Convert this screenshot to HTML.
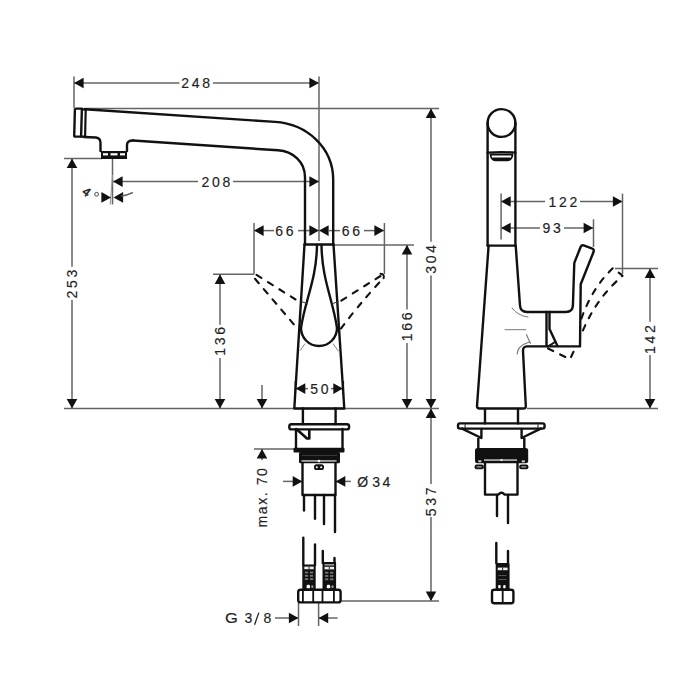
<!DOCTYPE html>
<html><head><meta charset="utf-8"><style>
html,body{margin:0;padding:0;background:#fff;}
svg{display:block;font-family:"Liberation Sans",sans-serif;}
</style></head><body>
<svg width="700" height="700" viewBox="0 0 700 700">
<rect width="700" height="700" fill="#fff"/>
<line x1="74" y1="76.5" x2="74" y2="108" stroke="#646464" stroke-width="1.5" />
<line x1="74" y1="83" x2="179.4" y2="83" stroke="#646464" stroke-width="1.5" />
<line x1="212.9" y1="83" x2="319" y2="83" stroke="#646464" stroke-width="1.5" />
<polygon points="74.00,83.00 83.60,77.70 83.60,88.30" fill="#111"/>
<polygon points="319.00,83.00 309.40,77.70 309.40,88.30" fill="#111"/>
<text x="197.04999999999998" y="83" font-size="14" letter-spacing="2.7" text-anchor="middle" dominant-baseline="central" fill="#222" stroke="#222" stroke-width="0.15">248</text>
<line x1="319" y1="76.5" x2="319" y2="241" stroke="#646464" stroke-width="1.5" />
<line x1="84" y1="108.4" x2="439" y2="108.4" stroke="#646464" stroke-width="1.5" />
<line x1="113" y1="181.6" x2="198" y2="181.6" stroke="#646464" stroke-width="1.5" />
<line x1="233" y1="181.6" x2="319" y2="181.6" stroke="#646464" stroke-width="1.5" />
<polygon points="113.00,181.60 122.60,176.30 122.60,186.90" fill="#111"/>
<polygon points="319.00,181.60 309.40,176.30 309.40,186.90" fill="#111"/>
<text x="217.15" y="181.6" font-size="14" letter-spacing="2.7" text-anchor="middle" dominant-baseline="central" fill="#222" stroke="#222" stroke-width="0.15">208</text>
<line x1="64" y1="158.5" x2="102" y2="158.5" stroke="#646464" stroke-width="1.5" />
<line x1="72" y1="158.5" x2="72" y2="266.7" stroke="#646464" stroke-width="1.5" />
<line x1="72" y1="300.1" x2="72" y2="408.5" stroke="#646464" stroke-width="1.5" />
<polygon points="72.00,158.50 66.70,168.10 77.30,168.10" fill="#111"/>
<polygon points="72.00,408.50 66.70,398.90 77.30,398.90" fill="#111"/>
<text x="73.35" y="284" font-size="14" letter-spacing="2.7" text-anchor="middle" dominant-baseline="central" fill="#222" stroke="#222" stroke-width="0.15" transform="rotate(-90 72 284)">253</text>
<line x1="64" y1="408.5" x2="439" y2="408.5" stroke="#646464" stroke-width="1.5" />
<line x1="213" y1="274.3" x2="254" y2="274.3" stroke="#646464" stroke-width="1.5" />
<line x1="254" y1="223" x2="254" y2="274.3" stroke="#646464" stroke-width="1.5" />
<line x1="220" y1="274.3" x2="220" y2="324.8" stroke="#646464" stroke-width="1.5" />
<line x1="220" y1="358" x2="220" y2="408.5" stroke="#646464" stroke-width="1.5" />
<polygon points="220.00,274.30 214.70,283.90 225.30,283.90" fill="#111"/>
<polygon points="220.00,408.50 214.70,398.90 225.30,398.90" fill="#111"/>
<text x="221.35" y="341.4" font-size="14" letter-spacing="2.7" text-anchor="middle" dominant-baseline="central" fill="#222" stroke="#222" stroke-width="0.15" transform="rotate(-90 220 341.4)">136</text>
<line x1="262" y1="385" x2="262" y2="408.5" stroke="#646464" stroke-width="1.5" />
<polygon points="262.00,408.50 256.70,398.90 267.30,398.90" fill="#111"/>
<line x1="254" y1="230.6" x2="274" y2="230.6" stroke="#646464" stroke-width="1.5" />
<line x1="298" y1="230.6" x2="310" y2="230.6" stroke="#646464" stroke-width="1.5" />
<polygon points="254.00,230.60 263.60,225.30 263.60,235.90" fill="#111"/>
<polygon points="319.00,230.60 309.40,225.30 309.40,235.90" fill="#111"/>
<polygon points="319.00,230.60 328.60,225.30 328.60,235.90" fill="#111"/>
<line x1="328" y1="230.6" x2="340" y2="230.6" stroke="#646464" stroke-width="1.5" />
<line x1="364" y1="230.6" x2="384" y2="230.6" stroke="#646464" stroke-width="1.5" />
<polygon points="384.00,230.60 374.40,225.30 374.40,235.90" fill="#111"/>
<text x="285.85" y="230.6" font-size="14" letter-spacing="2.7" text-anchor="middle" dominant-baseline="central" fill="#222" stroke="#222" stroke-width="0.15">66</text>
<text x="352.35" y="230.6" font-size="14" letter-spacing="2.7" text-anchor="middle" dominant-baseline="central" fill="#222" stroke="#222" stroke-width="0.15">66</text>
<line x1="384.4" y1="223" x2="384.4" y2="274" stroke="#646464" stroke-width="1.5" />
<line x1="333" y1="245" x2="414" y2="245" stroke="#646464" stroke-width="1.5" />
<line x1="407" y1="245" x2="407" y2="309.6" stroke="#646464" stroke-width="1.5" />
<line x1="407" y1="342.9" x2="407" y2="408.5" stroke="#646464" stroke-width="1.5" />
<polygon points="407.00,245.00 401.70,254.60 412.30,254.60" fill="#111"/>
<polygon points="407.00,408.50 401.70,398.90 412.30,398.90" fill="#111"/>
<text x="408.35" y="326.8" font-size="14" letter-spacing="2.7" text-anchor="middle" dominant-baseline="central" fill="#222" stroke="#222" stroke-width="0.15" transform="rotate(-90 407 326.8)">166</text>
<line x1="431" y1="108.4" x2="431" y2="241.7" stroke="#646464" stroke-width="1.5" />
<line x1="431" y1="275.4" x2="431" y2="408.5" stroke="#646464" stroke-width="1.5" />
<polygon points="431.00,108.40 425.70,118.00 436.30,118.00" fill="#111"/>
<polygon points="431.00,408.50 425.70,398.90 436.30,398.90" fill="#111"/>
<text x="432.35" y="259.4" font-size="14" letter-spacing="2.7" text-anchor="middle" dominant-baseline="central" fill="#222" stroke="#222" stroke-width="0.15" transform="rotate(-90 431 259.4)">304</text>
<line x1="431" y1="408.5" x2="431" y2="483.9" stroke="#646464" stroke-width="1.5" />
<line x1="431" y1="517.1" x2="431" y2="601" stroke="#646464" stroke-width="1.5" />
<polygon points="431.00,408.50 425.70,418.10 436.30,418.10" fill="#111"/>
<polygon points="431.00,601.00 425.70,591.40 436.30,591.40" fill="#111"/>
<text x="432.35" y="501.9" font-size="14" letter-spacing="2.7" text-anchor="middle" dominant-baseline="central" fill="#222" stroke="#222" stroke-width="0.15" transform="rotate(-90 431 501.9)">537</text>
<line x1="340" y1="601" x2="439" y2="601" stroke="#646464" stroke-width="1.5" />
<line x1="295.7" y1="388.6" x2="308" y2="388.6" stroke="#646464" stroke-width="1.5" />
<line x1="331" y1="388.6" x2="342.9" y2="388.6" stroke="#646464" stroke-width="1.5" />
<polygon points="295.70,388.60 305.30,383.30 305.30,393.90" fill="#111"/>
<polygon points="342.90,388.60 333.30,383.30 333.30,393.90" fill="#111"/>
<text x="320.65000000000003" y="388.6" font-size="14" letter-spacing="2.7" text-anchor="middle" dominant-baseline="central" fill="#222" stroke="#222" stroke-width="0.15">50</text>
<line x1="254" y1="449" x2="295" y2="449" stroke="#646464" stroke-width="1.5" />
<line x1="262" y1="449" x2="262" y2="460" stroke="#646464" stroke-width="1.5" />
<polygon points="262.00,449.00 256.70,458.60 267.30,458.60" fill="#111"/>
<text x="263.3" y="497.8" font-size="14" letter-spacing="1.6" text-anchor="middle" dominant-baseline="central" fill="#222" stroke="#222" stroke-width="0.15" transform="rotate(-90 262.5 497.8)">max. 70</text>
<line x1="283" y1="481.4" x2="302.3" y2="481.4" stroke="#646464" stroke-width="1.5" />
<polygon points="302.30,481.40 292.70,476.10 292.70,486.70" fill="#111"/>
<line x1="335.7" y1="481.4" x2="350.9" y2="481.4" stroke="#646464" stroke-width="1.5" />
<polygon points="335.70,481.40 345.30,476.10 345.30,486.70" fill="#111"/>
<text x="357.3" y="482.3" font-size="14" fill="#222" stroke="#222" stroke-width="0.15" dominant-baseline="central">Ø<tspan x="372.3" letter-spacing="2.5">34</tspan></text>
<text y="617.8" font-size="14" fill="#222" stroke="#222" stroke-width="0.15" dominant-baseline="central"><tspan x="244.4">3</tspan><tspan x="263.6">8</tspan></text>
<line x1="258.8" y1="612.6" x2="254.6" y2="624.8" stroke="#222" stroke-width="1.3" />
<text x="0" y="617.8" font-size="14" fill="#222" stroke="#222" stroke-width="0.15" dominant-baseline="central" transform="translate(225 0) scale(1.18 1)">G</text>
<line x1="275" y1="618" x2="298.5" y2="618" stroke="#646464" stroke-width="1.5" />
<polygon points="298.50,618.00 288.90,612.70 288.90,623.30" fill="#111"/>
<line x1="298.5" y1="603" x2="298.5" y2="626" stroke="#646464" stroke-width="1.5" />
<line x1="318.6" y1="603" x2="318.6" y2="626" stroke="#646464" stroke-width="1.5" />
<line x1="318.6" y1="618" x2="337.6" y2="618" stroke="#646464" stroke-width="1.5" />
<polygon points="318.60,618.00 328.20,612.70 328.20,623.30" fill="#111"/>
<line x1="112.5" y1="159" x2="112.5" y2="204.5" stroke="#646464" stroke-width="1.5" />
<line x1="112.5" y1="175" x2="110.2" y2="204.5" stroke="#999" stroke-width="1.1" />
<polygon points="111.00,197.40 101.40,192.10 101.40,202.70" fill="#111"/>
<polygon points="113.50,197.40 123.10,192.10 123.10,202.70" fill="#111"/>
<path d="M122 196 Q127 195 132.4 192.7" stroke="#646464" stroke-width="1.5" fill="none" stroke-linejoin="round" stroke-linecap="round" />
<text x="86.3" y="192" font-size="12.5" text-anchor="middle" dominant-baseline="central" fill="#222" stroke="#222" stroke-width="0.5" transform="rotate(36 86.3 192)">4</text>
<circle cx="96.6" cy="194.3" r="1.9" fill="none" stroke="#333" stroke-width="0.9"/>
<path d="M85 109.3 L275 121.9 C307 123.9 333.2 147.7 333.2 179.7 L333.2 244.5" stroke="#111" stroke-width="2.4" fill="none" stroke-linejoin="round" stroke-linecap="round" />
<path d="M133 140.5 L278 150.3 C293 151.3 305 162 305 177 L305 244.5" stroke="#111" stroke-width="2.4" fill="none" stroke-linejoin="round" stroke-linecap="round" />
<path d="M76 108.6 L81.9 108.6 L81.1 136.6 L74.6 136.6 Q74.2 136.6 74.2 136 L74.9 109.5 Q75 108.6 76 108.6 Z" stroke="#111" stroke-width="2.4" fill="none" stroke-linejoin="round" stroke-linecap="round" />
<path d="M81.9 109.3 L85.7 109.3 L85.1 136.6 L81.1 136.6" stroke="#111" stroke-width="2.2" fill="none" stroke-linejoin="round" stroke-linecap="round" />
<path d="M84 137 L96 137.5 Q100.5 138 100.5 143 L100.5 151" stroke="#111" stroke-width="2.4" fill="none" stroke-linejoin="round" stroke-linecap="round" />
<path d="M127 151 L127 145 Q127 140.5 133 140.5" stroke="#111" stroke-width="2.4" fill="none" stroke-linejoin="round" stroke-linecap="round" />
<rect x="101" y="151" width="26" height="8" fill="#111"/>
<rect x="103" y="153.2" width="5" height="2.2" fill="#fff"/><rect x="110.5" y="153.2" width="7" height="2.2" fill="#fff"/><rect x="120" y="153.2" width="5" height="2.2" fill="#fff"/>
<path d="M304.5 244.5 L333.5 244.5" stroke="#111" stroke-width="2.4" fill="none" stroke-linejoin="round" stroke-linecap="round" />
<path d="M304.5 244.5 L294.3 408.5 L344.3 408.5 L333.5 244.5" stroke="#111" stroke-width="2.4" fill="none" stroke-linejoin="round" stroke-linecap="round" />
<path d="M317 245 C316.5 280 305 300 301 328 A18 18 0 0 0 337 328 C333 300 322 280 321.5 245" stroke="#111" stroke-width="2.4" fill="none" stroke-linejoin="round" stroke-linecap="round" />
<line x1="305" y1="343.6" x2="300" y2="350.7" stroke="#777" stroke-width="0.9" />
<line x1="332.9" y1="343.6" x2="338.6" y2="351.4" stroke="#777" stroke-width="0.9" />
<line x1="301.4" y1="301.5" x2="307.9" y2="304" stroke="#333" stroke-width="1" />
<line x1="331.4" y1="304" x2="338.6" y2="301.5" stroke="#333" stroke-width="1" />
<path d="M256.5 274.8 L295.5 299.5" stroke="#111" stroke-width="2.1" fill="none" stroke-linejoin="round" stroke-linecap="round" stroke-dasharray="5.8 7.7"/>
<path d="M255 278.8 L296.5 327.5" stroke="#111" stroke-width="2.1" fill="none" stroke-linejoin="round" stroke-linecap="round" stroke-dasharray="5.8 7.7"/>
<path d="M380.5 276 L337.5 303" stroke="#111" stroke-width="2.1" fill="none" stroke-linejoin="round" stroke-linecap="round" stroke-dasharray="5.8 7.7"/>
<path d="M379.3 282.5 Q356 308 339.5 330.5" stroke="#111" stroke-width="2.1" fill="none" stroke-linejoin="round" stroke-linecap="round" stroke-dasharray="5.8 7.7"/>
<path d="M380.5 273.8 Q384.8 274 383.6 278.3" stroke="#111" stroke-width="2" fill="none" stroke-linejoin="round" stroke-linecap="round" />
<line x1="295.3" y1="381" x2="295.3" y2="396" stroke="#111" stroke-width="1.2" />
<line x1="343.5" y1="381" x2="343.5" y2="396" stroke="#111" stroke-width="1.2" />
<path d="M302.9 408.5 L302.9 424 M335.6 408.5 L335.6 424" stroke="#111" stroke-width="2.4" fill="none" stroke-linejoin="round" stroke-linecap="round" />
<rect x="289.3" y="424.2" width="59.8" height="5.2" rx="2.2" fill="none" stroke="#111" stroke-width="2.4"/>
<path d="M296 429 L296 448.5 M342.5 429 L342.5 448.5" stroke="#111" stroke-width="2.4" fill="none" stroke-linejoin="round" stroke-linecap="round" />
<path d="M297.5 430 L307 438.5 L309.3 438.5 L309.3 430.5" stroke="#111" stroke-width="2.6" fill="none" stroke-linejoin="round" stroke-linecap="round" />
<rect x="293.5" y="447.8" width="51" height="4.6" rx="1" fill="#111"/>
<rect x="299" y="452" width="41" height="11.2" rx="1.5" fill="#111"/>
<rect x="301.5" y="460.3" width="35" height="1.3" fill="#ddd"/><circle cx="319" cy="461" r="1.3" fill="#fff"/>
<rect x="302" y="455" width="35" height="0.8" fill="#444"/>
<rect x="314" y="464.3" width="10" height="5.8" rx="2.6" fill="#111"/><circle cx="316.8" cy="467.2" r="1" fill="#fff"/><circle cx="321.2" cy="467.2" r="1" fill="#fff"/>
<path d="M302.5 463 L302.5 495 L335.5 495 L335.5 463" stroke="#111" stroke-width="2.4" fill="none" stroke-linejoin="round" stroke-linecap="round" />
<path d="M304 495 L304 510.6" stroke="#111" stroke-width="2.4" fill="none" stroke-linejoin="round" stroke-linecap="round" />
<path d="M315 495 L315 518.7" stroke="#111" stroke-width="2.4" fill="none" stroke-linejoin="round" stroke-linecap="round" />
<path d="M324 495 L324 524" stroke="#111" stroke-width="2.4" fill="none" stroke-linejoin="round" stroke-linecap="round" />
<path d="M335 495 L335 532" stroke="#111" stroke-width="2.4" fill="none" stroke-linejoin="round" stroke-linecap="round" />
<path d="M303.3 537.7 L303.3 565" stroke="#111" stroke-width="2.4" fill="none" stroke-linejoin="round" stroke-linecap="round" />
<path d="M315 544.5 L315 565" stroke="#111" stroke-width="2.4" fill="none" stroke-linejoin="round" stroke-linecap="round" />
<path d="M322.8 551 L322.8 563" stroke="#111" stroke-width="2.4" fill="none" stroke-linejoin="round" stroke-linecap="round" />
<path d="M334.5 558 L334.5 563" stroke="#111" stroke-width="2.4" fill="none" stroke-linejoin="round" stroke-linecap="round" />
<rect x="302.3" y="564.6" width="13.4" height="25.399999999999977" rx="1" fill="#111"/>
<rect x="304.3" y="566.6" width="9.4" height="2.6" fill="#eee"/>
<rect x="308.6" y="566.6" width="0.9" height="2.6" fill="#111"/>
<rect x="304.9" y="571.6" width="3.2" height="1.8" fill="#777"/>
<rect x="304.9" y="574.9" width="3.2" height="1.8" fill="#777"/>
<rect x="304.9" y="578.2" width="3.2" height="1.8" fill="#777"/>
<rect x="309.9" y="571.6" width="3.2" height="1.8" fill="#777"/>
<rect x="309.9" y="574.9" width="3.2" height="1.8" fill="#777"/>
<rect x="309.9" y="578.2" width="3.2" height="1.8" fill="#777"/>
<rect x="306.6" y="584.8" width="3.4" height="3.8" rx="1.3" fill="#fff"/>
<rect x="311.3" y="585.3" width="2" height="3" rx="1" fill="#999"/>
<rect x="322.5" y="562" width="13.6" height="28" rx="1" fill="#111"/>
<rect x="324.5" y="564.2" width="9.6" height="1.3" fill="#bbb"/>
<rect x="324.5" y="566.8" width="9.6" height="2.6" fill="#eee"/>
<rect x="328.8" y="566.8" width="0.9" height="2.6" fill="#111"/>
<rect x="325.1" y="571.8" width="3.2" height="1.8" fill="#777"/>
<rect x="325.1" y="575.1" width="3.2" height="1.8" fill="#777"/>
<rect x="325.1" y="578.4" width="3.2" height="1.8" fill="#777"/>
<rect x="330.1" y="571.8" width="3.2" height="1.8" fill="#777"/>
<rect x="330.1" y="575.1" width="3.2" height="1.8" fill="#777"/>
<rect x="330.1" y="578.4" width="3.2" height="1.8" fill="#777"/>
<rect x="326.8" y="584.8" width="3.4" height="3.8" rx="1.3" fill="#fff"/>
<rect x="331.5" y="585.3" width="2" height="3" rx="1" fill="#999"/>
<rect x="298.2" y="589.8" width="42.4" height="12.6" rx="2.4" fill="none" stroke="#111" stroke-width="2.4"/>
<path d="M302.9 590 L302.9 602" stroke="#111" stroke-width="1.8" fill="none" stroke-linejoin="round" stroke-linecap="round" />
<path d="M313.2 590 L313.2 602" stroke="#111" stroke-width="1.8" fill="none" stroke-linejoin="round" stroke-linecap="round" />
<path d="M322.5 590 L322.5 602" stroke="#111" stroke-width="1.8" fill="none" stroke-linejoin="round" stroke-linecap="round" />
<path d="M333.9 590 L333.9 602" stroke="#111" stroke-width="1.8" fill="none" stroke-linejoin="round" stroke-linecap="round" />
<line x1="501.1" y1="193.6" x2="501.1" y2="239.6" stroke="#646464" stroke-width="1.5" />
<line x1="501.1" y1="201.5" x2="545" y2="201.5" stroke="#646464" stroke-width="1.5" />
<line x1="580" y1="201.5" x2="622.5" y2="201.5" stroke="#646464" stroke-width="1.5" />
<polygon points="501.10,201.50 510.70,196.20 510.70,206.80" fill="#111"/>
<polygon points="622.50,201.50 612.90,196.20 612.90,206.80" fill="#111"/>
<text x="564.25" y="201.5" font-size="14" letter-spacing="2.7" text-anchor="middle" dominant-baseline="central" fill="#222" stroke="#222" stroke-width="0.15">122</text>
<line x1="622.5" y1="193.6" x2="622.5" y2="274" stroke="#646464" stroke-width="1.5" />
<line x1="501.1" y1="228" x2="540" y2="228" stroke="#646464" stroke-width="1.5" />
<line x1="564" y1="228" x2="593.2" y2="228" stroke="#646464" stroke-width="1.5" />
<polygon points="501.10,228.00 510.70,222.70 510.70,233.30" fill="#111"/>
<polygon points="593.20,228.00 583.60,222.70 583.60,233.30" fill="#111"/>
<text x="552.95" y="228" font-size="14" letter-spacing="2.7" text-anchor="middle" dominant-baseline="central" fill="#222" stroke="#222" stroke-width="0.15">93</text>
<line x1="593.5" y1="219.3" x2="593.5" y2="247" stroke="#646464" stroke-width="1.5" />
<line x1="615" y1="268.5" x2="658" y2="268.5" stroke="#646464" stroke-width="1.5" />
<line x1="650" y1="268.5" x2="650" y2="321.8" stroke="#646464" stroke-width="1.5" />
<line x1="650" y1="355" x2="650" y2="408.5" stroke="#646464" stroke-width="1.5" />
<polygon points="650.00,268.50 644.70,278.10 655.30,278.10" fill="#111"/>
<polygon points="650.00,408.50 644.70,398.90 655.30,398.90" fill="#111"/>
<text x="651.35" y="339.6" font-size="14" letter-spacing="2.7" text-anchor="middle" dominant-baseline="central" fill="#222" stroke="#222" stroke-width="0.15" transform="rotate(-90 650 339.6)">142</text>
<line x1="527" y1="408.5" x2="658" y2="408.5" stroke="#646464" stroke-width="1.5" />
<circle cx="501.5" cy="123" r="13.9" fill="none" stroke="#111" stroke-width="2.4"/>
<path d="M487.6 123 L487.6 245.6 M515.4 123 L515.4 245.6" stroke="#111" stroke-width="2.4" fill="none" stroke-linejoin="round" stroke-linecap="round" />
<path d="M487.6 152.6 Q501.5 151.6 515.4 152.6" stroke="#111" stroke-width="2.2" fill="none" stroke-linejoin="round" stroke-linecap="round" />
<path d="M490.5 154.5 L512.5 154.5 Q512 160.3 507.5 160.3 L495.5 160.3 Q491 160.3 490.5 154.5 Z" stroke="#111" stroke-width="1.8" fill="none" stroke-linejoin="round" stroke-linecap="round" />
<rect x="492" y="157.6" width="19" height="2.6" rx="1.2" fill="#111"/>
<path d="M487.6 245.6 L515.4 245.6" stroke="#111" stroke-width="2.4" fill="none" stroke-linejoin="round" stroke-linecap="round" />
<path d="M488.6 245.6 L477 406 Q477 408.5 479.5 408.5 L523.5 408.5 Q526 408.5 525.8 406 L523 351 Q522.9 346.4 527 346.4 L580 346.4 L580.7 284.3 L593.6 251.8 Q594.4 249.2 591.7 248.4 L583.6 245.4 Q581.6 244.8 580.7 246.8 L574.3 262.9 L572.9 305.7 Q572.5 312 566 312 L527 312 Q520.5 312 520 305.7 L515.7 245.6" stroke="#111" stroke-width="2.4" fill="none" stroke-linejoin="round" stroke-linecap="round" />
<path d="M546.5 312 L546.5 346 M549.5 312 L549.5 329 L557.5 346" stroke="#111" stroke-width="2.4" fill="none" stroke-linejoin="round" stroke-linecap="round" />
<path d="M547.5 346.5 Q551 345 554.5 342.3" stroke="#111" stroke-width="2" fill="none" stroke-linejoin="round" stroke-linecap="round" />
<path d="M548 348.5 L570 359.3 L575.7 347" stroke="#111" stroke-width="2.1" fill="none" stroke-linejoin="round" stroke-linecap="round" stroke-dasharray="5.8 7.7"/>
<path d="M581.4 318.6 C588 300 598 282 613.1 268 L622.6 275.7 C609 288 594 303 581.5 334" stroke="#111" stroke-width="2.1" fill="none" stroke-linejoin="round" stroke-linecap="round" stroke-dasharray="5.8 7.7"/>
<path d="M512 308 Q518 316 528 317" stroke="#777" stroke-width="1" fill="none" stroke-linejoin="round" stroke-linecap="round" />
<path d="M505 329.7 L525.7 329.7" stroke="#777" stroke-width="1" fill="none" stroke-linejoin="round" stroke-linecap="round" />
<path d="M517.2 354 Q517 346 530 341.8" stroke="#777" stroke-width="1.1" fill="none" stroke-linejoin="round" stroke-linecap="round" />
<path d="M526.4 334.5 L530.4 343.5" stroke="#777" stroke-width="1.1" fill="none" stroke-linejoin="round" stroke-linecap="round" />
<path d="M485 408.9 L485 423.4 M518 408.9 L518 423.4" stroke="#111" stroke-width="2.4" fill="none" stroke-linejoin="round" stroke-linecap="round" />
<rect x="458" y="423.4" width="86.6" height="5.2" rx="2" fill="none" stroke="#111" stroke-width="2.4"/>
<path d="M462 428.6 L481.4 438 L481.4 429 M478.3 438 L478.3 448.3 M540.8 428.6 L521.6 438 L521.6 429 M524.3 438 L524.3 448.3" stroke="#111" stroke-width="2.4" fill="none" stroke-linejoin="round" stroke-linecap="round" />
<rect x="464.6" y="424.3" width="1" height="3.6" fill="#111"/><rect x="537.5" y="424.3" width="1" height="3.6" fill="#111"/>
<rect x="475" y="448" width="53.2" height="15.2" rx="2.5" fill="#111"/>
<rect x="484" y="459.4" width="33" height="1.3" fill="#ddd"/><circle cx="501.5" cy="460" r="1.1" fill="#fff"/>
<rect x="478.3" y="460.3" width="3" height="2" fill="#ccc"/><rect x="521.8" y="460.3" width="3" height="2" fill="#ccc"/>
<rect x="474.6" y="464.6" width="9.2" height="4.6" rx="2" fill="#111"/><rect x="476.6" y="466.4" width="5" height="1" fill="#ccc"/>
<rect x="519.2" y="464.6" width="9.2" height="4.6" rx="2" fill="#111"/><rect x="521.2" y="466.4" width="5" height="1" fill="#ccc"/>
<path d="M485 463 L485 494.6 L498.5 494.6 Q501.5 491 504.5 494.6 L517.5 494.6 L517.5 463" stroke="#111" stroke-width="2.4" fill="none" stroke-linejoin="round" stroke-linecap="round" />
<path d="M497 495 L497 516" stroke="#111" stroke-width="2.4" fill="none" stroke-linejoin="round" stroke-linecap="round" />
<path d="M508 495 L508 523" stroke="#111" stroke-width="2.4" fill="none" stroke-linejoin="round" stroke-linecap="round" />
<path d="M496.3 543 L496.3 563" stroke="#111" stroke-width="2.4" fill="none" stroke-linejoin="round" stroke-linecap="round" />
<path d="M508 551 L508 563" stroke="#111" stroke-width="2.4" fill="none" stroke-linejoin="round" stroke-linecap="round" />
<rect x="495.7" y="562.9" width="13.9" height="27" rx="1" fill="#111"/>
<rect x="497.7" y="567.6" width="9.9" height="2.6" fill="#eee"/><rect x="502.2" y="567.6" width="0.9" height="2.6" fill="#111"/>
<rect x="498.5" y="575" width="8" height="1" fill="#555"/><rect x="498.5" y="579" width="8" height="1" fill="#555"/>
<rect x="498.2" y="585" width="2.4" height="3.4" rx="1" fill="#fff"/><rect x="503.2" y="585" width="2.4" height="3.4" rx="1" fill="#fff"/>
<rect x="492" y="589.7" width="21.4" height="13.6" rx="2.2" fill="none" stroke="#111" stroke-width="2.4"/>
<path d="M502.7 590 L502.7 603" stroke="#111" stroke-width="1.8" fill="none" stroke-linejoin="round" stroke-linecap="round" />
</svg></body></html>
